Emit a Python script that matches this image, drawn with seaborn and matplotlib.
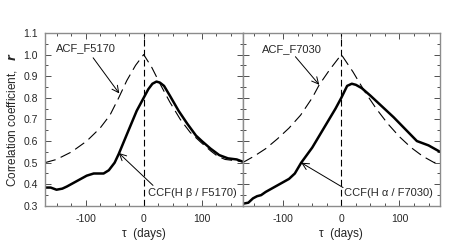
import matplotlib
matplotlib.use("Agg")
import matplotlib.pyplot as plt
from matplotlib.ticker import MultipleLocator, FormatStrFormatter
import seaborn as sns

sns.set_theme(style="ticks")
plt.rcParams['font.family'] = ['Liberation Sans', 'DejaVu Sans']
plt.rcParams['axes.unicode_minus'] = False

# left panel: ACF of F5170 and CCF(Hbeta / F5170)
acf1_lag = [-170, -150, -124, -98, -75, -58, -43, -29, -14, 0, 14, 29, 45, 63, 80, 98, 115, 127, 140, 155, 170]
acf1_r = [0.50, 0.515, 0.55, 0.60, 0.66, 0.72, 0.80, 0.88, 0.95, 1.00, 0.94, 0.86, 0.78, 0.70, 0.64, 0.595, 0.555, 0.53, 0.515, 0.51, 0.505]

ccf1_lag = [-170, -160, -150, -140, -132, -115, -98, -86, -69, -60, -50, -43, -26, -12, 0, 8, 15, 22, 28, 35, 45, 60, 75, 90, 100, 115, 130, 145, 160, 170]
ccf1_r = [0.385, 0.385, 0.375, 0.38, 0.39, 0.415, 0.44, 0.45, 0.45, 0.465, 0.50, 0.54, 0.65, 0.74, 0.80, 0.84, 0.865, 0.875, 0.87, 0.855, 0.81, 0.74, 0.68, 0.625, 0.60, 0.565, 0.535, 0.52, 0.515, 0.505]

# right panel: ACF of F7030 and CCF(Halpha / F7030)
acf2_lag = [-170, -150, -130, -110, -90, -70, -50, -38, -20, 0, 20, 40, 60, 80, 100, 120, 140, 160, 170]
acf2_r = [0.50, 0.53, 0.565, 0.61, 0.66, 0.72, 0.80, 0.86, 0.93, 1.00, 0.92, 0.83, 0.75, 0.68, 0.62, 0.57, 0.53, 0.50, 0.515]

ccf2_lag = [-170, -160, -152, -145, -138, -130, -120, -110, -100, -90, -80, -69, -50, -30, -10, 0, 10, 18, 25, 35, 50, 70, 90, 110, 130, 140, 150, 160, 170]
ccf2_r = [0.31, 0.315, 0.335, 0.345, 0.35, 0.365, 0.38, 0.395, 0.41, 0.425, 0.45, 0.50, 0.57, 0.66, 0.75, 0.80, 0.855, 0.865, 0.86, 0.845, 0.81, 0.76, 0.71, 0.655, 0.60, 0.59, 0.58, 0.565, 0.55]

panels = [
    dict(acf=(acf1_lag, acf1_r), ccf=(ccf1_lag, ccf1_r),
         acf_text="ACF_F5170", acf_xy=(-42, 0.82), acf_txt=(-151, 1.028), acf_tail=(-87, 0.985),
         ccf_text="CCF(H β / F5170)", ccf_xy=(-43, 0.545), ccf_txt=(8, 0.36), ccf_tail=(16, 0.395)),
    dict(acf=(acf2_lag, acf2_r), ccf=(ccf2_lag, ccf2_r),
         acf_text="ACF_F7030", acf_xy=(-38, 0.86), acf_txt=(-136, 1.024), acf_tail=(-79, 0.99),
         ccf_text="CCF(H α / F7030)", ccf_xy=(-69, 0.50), ccf_txt=(5, 0.36), ccf_tail=(3, 0.385)),
]

fig, axes = plt.subplots(1, 2, figsize=(4.58, 2.42), dpi=100, sharey=True)
fig.subplots_adjust(left=0.098, right=0.961, bottom=0.149, top=0.864, wspace=0)

for ax, p in zip(axes, panels):
    sns.lineplot(x=p["acf"][0], y=p["acf"][1], ax=ax, color="black", lw=0.8,
                 linestyle=(0, (10, 5)))
    sns.lineplot(x=p["ccf"][0], y=p["ccf"][1], ax=ax, color="black", lw=1.8)
    ax.axvline(0, color="black", lw=0.8, linestyle=(0, (6, 3)))
    ax.set_xlim(-170, 170)
    ax.set_ylim(0.3, 1.1)
    ax.xaxis.set_major_locator(MultipleLocator(100))
    ax.xaxis.set_minor_locator(MultipleLocator(25))
    ax.yaxis.set_major_locator(MultipleLocator(0.1))
    ax.yaxis.set_minor_locator(MultipleLocator(0.05))
    ax.tick_params(which="both", direction="in", top=True, right=True, color="#333333",
                   labelsize=7.5, width=0.6)
    ax.tick_params(which="major", length=4)
    ax.tick_params(which="minor", length=2)
    ax.tick_params(axis="x", pad=6)
    for s in ax.spines.values():
        s.set_color("#8c8c8c")
        s.set_linewidth(1.0)
    ax.set_xlabel("τ  (days)", fontsize=8.5, labelpad=3)
    arrow = dict(arrowstyle="->", color="black", lw=0.7, shrinkA=0, shrinkB=0)
    ax.annotate("", xy=p["acf_xy"], xytext=p["acf_tail"], arrowprops=arrow)
    ax.annotate("", xy=p["ccf_xy"], xytext=p["ccf_tail"], arrowprops=arrow)
    ax.text(p["acf_txt"][0], p["acf_txt"][1], p["acf_text"], fontsize=8, va="center", ha="left")
    ax.text(p["ccf_txt"][0], p["ccf_txt"][1], p["ccf_text"], fontsize=8, va="center", ha="left")

axes[0].yaxis.set_major_formatter(FormatStrFormatter("%.1f"))
axes[0].tick_params(axis="y", pad=5)
axes[1].tick_params(labelleft=False)
axes[0].set_ylabel(r"Correlation coefficient,   $\boldsymbol{r}$", fontsize=8.5, labelpad=3)

fig.savefig("out.png", dpi=100)
